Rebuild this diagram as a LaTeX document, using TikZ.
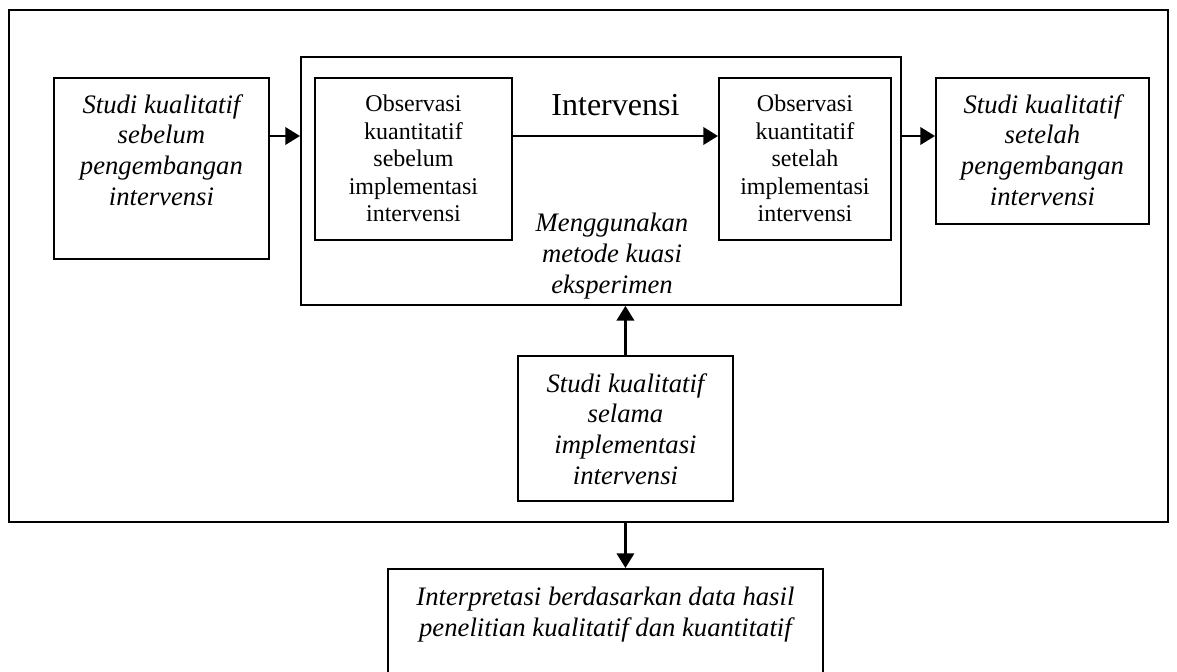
\documentclass[tikz,border=0pt]{standalone}
\usepackage{fontspec}
\setmainfont{Liberation Serif}
\usetikzlibrary{arrows.meta,positioning}

\begin{document}
\begin{tikzpicture}[x=0.75pt, y=-0.75pt,
    kotak/.style={draw, line width=1.4pt, inner sep=0pt, anchor=north west},
    tegak/.style={align=center, inner sep=0pt, font=\fontsize{18}{20.6}\selectfont},
    miring/.style={align=center, inner sep=0pt, font=\fontsize{20}{23.2}\selectfont\itshape},
    panah/.style={-{Triangle[length=11pt, width=13pt]}, line width=1.9pt}]
        \useasboundingbox (0,0) rectangle (1177,671);
        \clip (0,0) rectangle (1177,671);

        % Kotak
        \node (bingkai) [kotak, minimum width=869.25pt, minimum height=384pt] at (8,9) {};
        \node (kiri) [kotak, minimum width=161.25pt, minimum height=135.75pt] at (53,77) {};
        \node (tengah) [kotak, minimum width=450pt, minimum height=186pt] at (300,56) {};
        \node (obs1) [kotak, minimum width=147.75pt, minimum height=121.5pt] at (314,77) {};
        \node (obs2) [kotak, minimum width=129pt, minimum height=121.5pt] at (718,77) {};
        \node (kanan) [kotak, minimum width=159.75pt, minimum height=109.5pt] at (935,77) {};
        \node (selama) [kotak, minimum width=161.25pt, minimum height=108.75pt] at (517,355) {};
        \node (hasil) [kotak, minimum width=326.25pt, minimum height=99pt] at (387,568) {};

        % Teks
        \node (tKiri) [miring, below=12.75pt of kiri.north] {Studi kualitatif\\sebelum\\pengembangan\\intervensi};
        \node (tObs1) [tegak, below=13.5pt of obs1.north] {Observasi\\kuantitatif\\sebelum\\implementasi\\intervensi};
        \node (tObs2) [tegak, below=13.5pt of obs2.north] {Observasi\\kuantitatif\\setelah\\implementasi\\intervensi};
        \node (tKanan) [miring, below=12.75pt of kanan.north] {Studi kualitatif\\setelah\\pengembangan\\intervensi};
        \node (metode) [miring, anchor=north] at (612,213) {Menggunakan\\metode kuasi\\eksperimen};
        \node (tSelama) [miring, below=13.5pt of selama.north] {Studi kualitatif\\selama\\implementasi\\intervensi};
        \node (tHasil) [miring, below=14.25pt of hasil.north] {Interpretasi berdasarkan data hasil\\penelitian kualitatif dan kuantitatif};

        % Panah
        \coordinate (garis) at (0,136);
        \draw[panah] (kiri.east |- garis) -- (tengah.west |- garis);
        \draw[panah] (obs1.east |- garis) -- node[above=14pt, inner sep=0pt, font=\fontsize{24}{28}\selectfont] (judul) {Intervensi} (obs2.west |- garis);
        \draw[panah] (tengah.east |- garis) -- (kanan.west |- garis);
        \draw[panah] (selama.north) -- (selama.north |- tengah.south);
        \draw[panah] (selama.north |- bingkai.south) -- (selama.north |- hasil.north);
\end{tikzpicture}
\end{document}
